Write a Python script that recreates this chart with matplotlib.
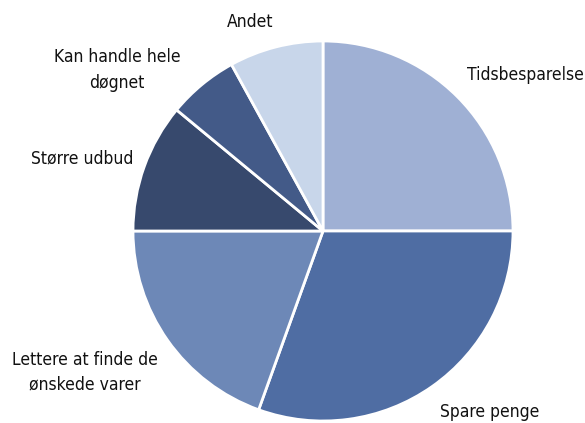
import matplotlib
matplotlib.use("Agg")
import matplotlib.pyplot as plt

categories = ["Tidsbesparelse", "Spare penge", "Lettere at finde de\nønskede varer",
              "Større udbud", "Kan handle hele\ndøgnet", "Andet"]
values = [25, 30.5, 19.5, 11, 6, 8]
colors = ["#9fb0d4", "#4f6da3", "#6d88b7", "#37496d", "#435a88", "#c8d6ea"]

plt.rcParams["font.family"] = ["DejaVu Sans"]

W, H = 585, 423
fig = plt.figure(figsize=(W / 100, H / 100), dpi=100)
cx, cy, r = 323, 231, 190
ax = fig.add_axes([(cx - r) / W, (H - cy - r) / H, 2 * r / W, 2 * r / H])
ax.pie(values, colors=colors, startangle=90, counterclock=False,
       wedgeprops=dict(edgecolor="white", linewidth=2))
ax.set_xlim(-1, 1)
ax.set_ylim(-1, 1)
ax.set_aspect("equal")
ax.axis("off")

label_pos = [(467, 75, "left"), (440, 412, "left"), (85, 372, "center"),
             (82, 158, "center"), (117, 70, "center"), (250, 22, "center")]
for lab, (x, y, ha) in zip(categories, label_pos):
    fig.text(x / W, 1 - y / H, lab, ha=ha, va="center", fontsize=12.5,
             fontstretch="condensed", color="#111111", linespacing=1.5)

fig.savefig("out.png", dpi=100)
